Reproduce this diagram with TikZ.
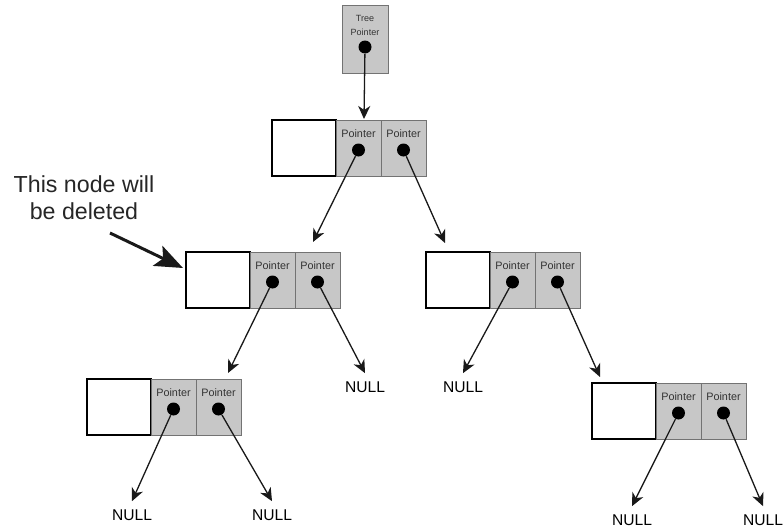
\documentclass[tikz,border=0pt]{standalone}
\usepackage{fontspec}
\setmainfont{Liberation Sans}
\usetikzlibrary{arrows.meta,positioning}
\tikzset{
  databox/.style={draw=black, line width=0.65pt, fill=white, minimum width=32pt,
    minimum height=28pt, inner sep=0pt, outer sep=0pt, anchor=north west},
  ptrcell/.style={draw=black!55, line width=0.4pt, fill=black!22, minimum width=22.5pt,
    minimum height=28pt, inner sep=0pt, outer sep=0pt},
  ptrtext/.style={font=\fontsize{5.4}{6}\selectfont, text=black!80, inner sep=0pt},
  ptrdot/.style={circle, fill=black, minimum size=6.5pt, inner sep=0pt},
  ptr/.style={-{Stealth[length=6.5pt,width=6pt,inset=2pt]}, line width=0.65pt, black!90},
  nulltext/.style={font=\fontsize{7.8}{9}\selectfont, inner sep=0pt},
}

\begin{document}
\begin{tikzpicture}[x=0.5pt, y=-0.5pt]
        \useasboundingbox (0,0) rectangle (784,530);

        % Tree pointer
        \node[ptrcell, minimum width=23pt, minimum height=34pt, anchor=north west] (tp) at (342,5) {};
        \node[ptrtext, font=\fontsize{4.5}{7}\selectfont, align=center, below=5pt of tp.north] (tp-t) {Tree\\Pointer};
        \node[ptrdot] (tp-d) at ([yshift=-21pt]tp.north) {};

        % Root
        \node[databox] (root) at (272,120) {};
        \node[ptrcell, right=0pt of root] (root-lc) {};
        \node[ptrcell, right=0pt of root-lc] (root-rc) {};
        \node[ptrtext, below=4.5pt of root-lc.north] (root-lt) {Pointer};
        \node[ptrtext, below=4.5pt of root-rc.north] (root-rt) {Pointer};
        \node[ptrdot] (root-l) at ([yshift=-15pt]root-lc.north) {};
        \node[ptrdot] (root-r) at ([yshift=-15pt]root-rc.north) {};

        % Left child (to be deleted)
        \node[databox] (lft) at (186,252) {};
        \node[ptrcell, right=0pt of lft] (lft-lc) {};
        \node[ptrcell, right=0pt of lft-lc] (lft-rc) {};
        \node[ptrtext, below=4.5pt of lft-lc.north] (lft-lt) {Pointer};
        \node[ptrtext, below=4.5pt of lft-rc.north] (lft-rt) {Pointer};
        \node[ptrdot] (lft-l) at ([yshift=-15pt]lft-lc.north) {};
        \node[ptrdot] (lft-r) at ([yshift=-15pt]lft-rc.north) {};

        % Right child
        \node[databox] (rgt) at (426,252) {};
        \node[ptrcell, right=0pt of rgt] (rgt-lc) {};
        \node[ptrcell, right=0pt of rgt-lc] (rgt-rc) {};
        \node[ptrtext, below=4.5pt of rgt-lc.north] (rgt-lt) {Pointer};
        \node[ptrtext, below=4.5pt of rgt-rc.north] (rgt-rt) {Pointer};
        \node[ptrdot] (rgt-l) at ([yshift=-15pt]rgt-lc.north) {};
        \node[ptrdot] (rgt-r) at ([yshift=-15pt]rgt-rc.north) {};

        % Bottom left leaf
        \node[databox] (bl) at (87,379) {};
        \node[ptrcell, right=0pt of bl] (bl-lc) {};
        \node[ptrcell, right=0pt of bl-lc] (bl-rc) {};
        \node[ptrtext, below=4.5pt of bl-lc.north] (bl-lt) {Pointer};
        \node[ptrtext, below=4.5pt of bl-rc.north] (bl-rt) {Pointer};
        \node[ptrdot] (bl-l) at ([yshift=-15pt]bl-lc.north) {};
        \node[ptrdot] (bl-r) at ([yshift=-15pt]bl-rc.north) {};

        % Bottom right leaf
        \node[databox] (br) at (592,383) {};
        \node[ptrcell, right=0pt of br] (br-lc) {};
        \node[ptrcell, right=0pt of br-lc] (br-rc) {};
        \node[ptrtext, below=4.5pt of br-lc.north] (br-lt) {Pointer};
        \node[ptrtext, below=4.5pt of br-rc.north] (br-rt) {Pointer};
        \node[ptrdot] (br-l) at ([yshift=-15pt]br-lc.north) {};
        \node[ptrdot] (br-r) at ([yshift=-15pt]br-rc.north) {};

        % NULL labels
        \node[nulltext] (null1) at (365,387) {NULL};
        \node[nulltext] (null2) at (463,387) {NULL};
        \node[nulltext] (null3) at (132,515) {NULL};
        \node[nulltext] (null4) at (272,515) {NULL};
        \node[nulltext] (null5) at (632,520) {NULL};
        \node[nulltext] (null6) at (763,520) {NULL};

        % Arrow tips
        \coordinate (tip-root) at (364,119);
        \coordinate (tip-lft) at (313,242);
        \coordinate (tip-rgt) at (445,243);
        \coordinate (tip-bl) at (228,373);
        \coordinate (tip-br) at (600,377);

        % Draw pointers
        \draw[ptr] (tp-d) -- (tip-root);
        \draw[ptr] (root-l) -- (tip-lft);
        \draw[ptr] (root-r) -- (tip-rgt);
        \draw[ptr] (lft-l) -- (tip-bl);
        \draw[ptr] (lft-r) -- ([yshift=4pt]null1.north);
        \draw[ptr] (rgt-l) -- ([yshift=4pt]null2.north);
        \draw[ptr] (rgt-r) -- (tip-br);
        \draw[ptr] (bl-l) -- ([yshift=4pt]null3.north);
        \draw[ptr] (bl-r) -- ([yshift=4pt]null4.north);
        \draw[ptr] (br-l) -- ([yshift=4pt]null5.north);
        \draw[ptr] (br-r) -- ([yshift=4pt]null6.north);

        % Note
        \node[font=\fontsize{11.6}{13.5}\selectfont, align=center, text=black!85] (note) at (84,198) {This node will\\be deleted};
        \coordinate (del-tail) at (110,233);
        \coordinate (del-tip) at (183,268);
        \draw[-{Stealth[length=14pt,width=11pt,inset=3pt]}, line width=1.5pt, black!90] (del-tail) -- (del-tip);

\end{tikzpicture}
\end{document}
